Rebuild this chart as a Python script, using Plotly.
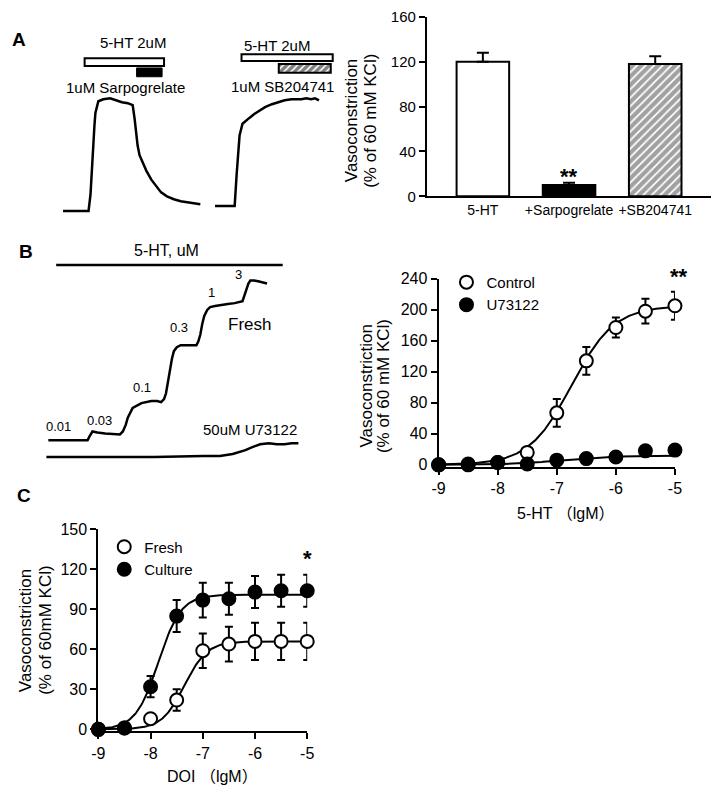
import numpy as np
import plotly.graph_objects as go

W, H = 722, 797
OFF = 8  # page body margin offset in the browser
FONT = "Liberation Sans, Arial, Noto Sans CJK SC, sans-serif"

# ---------------- Panel A bar chart data ----------------
bar_cats = ["5-HT", "+Sarpogrelate", "+SB204741"]
bar_vals = [120, 10, 118]
bar_err = [8, 2, 7]

# ---------------- Panel A recordings (time, tension; arbitrary units) ----------------
a1_t = [17, 43, 45, 47, 49, 50, 53, 58, 65, 71, 77, 83, 88, 90, 91, 93, 95, 98, 102, 107, 112, 117, 123, 130, 137, 143, 150, 157]
a1_f = [8, 8, 25, 65, 95, 108, 120, 122, 123, 121, 119, 118, 116, 102, 90, 75, 65, 58, 49, 40, 33, 27, 23, 20, 18, 17, 16, 15]
a2_t = [172, 192, 194, 196, 197, 200, 204, 207, 212, 217, 223, 230, 237, 243, 250, 260, 265, 270, 274, 278]
a2_f = [13, 13, 45, 75, 85, 97, 101, 103, 107, 110, 114, 117, 119, 121, 122, 122, 123, 122, 123, 121]

# ---------------- Panel B recordings ----------------
fresh_t = [12, 52, 54, 57, 62, 70, 85, 88, 91, 93, 98, 103, 107, 117, 123, 127, 130, 132, 134, 136, 138, 140, 143, 147,
           155, 163, 165, 167, 169, 171, 174, 177, 182, 187, 195, 202, 210, 212, 214, 216, 218, 222, 227, 231, 235]
fresh_f = [29, 29, 33, 38, 37, 36, 35, 38, 45, 52, 62, 65, 67, 69, 69, 68, 71, 77, 90, 102, 112, 120, 124, 126,
           126, 126, 130, 137, 148, 156, 162, 165, 166, 167, 168, 169, 171, 177, 184, 189, 192, 192, 191, 190, 189]
u73_t = [10, 70, 120, 170, 187, 200, 207, 213, 220, 228, 237, 245, 253, 260, 267]
u73_f = [12, 12, 12, 13, 13, 15, 17, 19, 22, 25, 26, 25, 25, 26, 26]

# ---------------- Panel B dose-response ----------------
logc = [-9, -8.5, -8, -7.5, -7, -6.5, -6, -5.5, -5]
ctrl_vals = [0, 1, 3, 16, 67, 134, 177, 198, 205]
ctrl_err = [0, 0, 0, 3, 18, 18, 13, 16, 18]
u73_vals = [0, 0, 3, 1, 6, 8, 10, 18, 19]
u73_err = [0, 0, 1, 1, 1, 1, 1, 1, 1]
ctrl_fit = dict(bottom=0, top=205, logec50=-6.75, hill=1.2)
u73_fit = dict(bottom=0, top=12, logec50=-6.9, hill=1.0)

# ---------------- Panel C dose-response ----------------
fresh_vals = [0, 1, 8, 22, 59, 64, 66, 66, 66]
fresh_err = [0, 0, 2, 8, 13, 13, 14, 14, 14]
cult_vals = [0, 1, 32, 85, 97, 98, 103, 104, 104]
cult_err = [0, 1, 8, 12, 13, 12, 12, 12, 12]
fresh_fit = dict(bottom=0, top=66, logec50=-7.35, hill=2.0)
cult_fit = dict(bottom=0, top=101, logec50=-7.85, hill=2.0)

xticks = [-9, -8, -7, -6, -5]
xtick_text = ["-9", "-8", "-7", "-6", "-5"]


def PX(x):
    return (x - OFF) / W


def PY(y):
    return 1 - (y - OFF) / H


def sigmoid(x, p):
    x = np.asarray(x)
    return p["bottom"] + (p["top"] - p["bottom"]) / (1 + 10 ** ((p["logec50"] - x) * p["hill"]))


xfit = np.linspace(-9, -5, 200)

fig = go.Figure()

# ---- A bar chart ----
fig.add_trace(go.Bar(
    x=bar_cats, y=bar_vals, xaxis="x", yaxis="y", width=0.61,
    marker=dict(color=["white", "black", "white"], line=dict(color="black", width=2),
                pattern=dict(shape=["", "", "/"], fgcolor="black", bgcolor="white", size=6, solidity=0.7)),
    error_y=dict(type="data", array=bar_err, arrayminus=[0, 0, 0], symmetric=False,
                 color="black", thickness=2, width=6),
    showlegend=False))

# ---- A recordings ----
line_style = dict(color="black", width=2.5)
fig.add_trace(go.Scatter(x=a1_t, y=a1_f, mode="lines", line=line_style, xaxis="x3", yaxis="y3", showlegend=False))
fig.add_trace(go.Scatter(x=a2_t, y=a2_f, mode="lines", line=line_style, xaxis="x3", yaxis="y3", showlegend=False))
# hatched SB204741 application bar
fig.add_trace(go.Bar(y=[153.5], x=[53], base=[237], width=[9], orientation="h", xaxis="x3", yaxis="y3",
                     marker=dict(color="white", line=dict(color="black", width=2),
                                 pattern=dict(shape="/", fgcolor="black", bgcolor="white", size=5, solidity=0.7)),
                     showlegend=False))

# ---- B recordings ----
fig.add_trace(go.Scatter(x=fresh_t, y=fresh_f, mode="lines", line=line_style, xaxis="x4", yaxis="y4", showlegend=False))
fig.add_trace(go.Scatter(x=u73_t, y=u73_f, mode="lines", line=line_style, xaxis="x4", yaxis="y4", showlegend=False))

# ---- B dose-response ----
fig.add_trace(go.Scatter(x=xfit, y=sigmoid(xfit, ctrl_fit), mode="lines", line=dict(color="black", width=2),
                         xaxis="x2", yaxis="y2", showlegend=False, cliponaxis=False))
fig.add_trace(go.Scatter(x=xfit, y=sigmoid(xfit, u73_fit), mode="lines", line=dict(color="black", width=2),
                         xaxis="x2", yaxis="y2", showlegend=False, cliponaxis=False))
fig.add_trace(go.Scatter(x=logc, y=ctrl_vals, mode="markers", name="Control", xaxis="x2", yaxis="y2",
                         marker=dict(symbol="circle", size=13, color="white", line=dict(color="black", width=2)),
                         error_y=dict(type="data", array=ctrl_err, color="black", thickness=2, width=4),
                         cliponaxis=False, legend="legend"))
fig.add_trace(go.Scatter(x=logc, y=u73_vals, mode="markers", name="U73122", xaxis="x2", yaxis="y2",
                         marker=dict(symbol="circle", size=13, color="black", line=dict(color="black", width=2)),
                         error_y=dict(type="data", array=u73_err, color="black", thickness=2, width=4),
                         cliponaxis=False, legend="legend"))

# ---- C dose-response ----
fig.add_trace(go.Scatter(x=xfit, y=sigmoid(xfit, fresh_fit), mode="lines", line=dict(color="black", width=2),
                         xaxis="x5", yaxis="y5", showlegend=False, cliponaxis=False))
fig.add_trace(go.Scatter(x=xfit, y=sigmoid(xfit, cult_fit), mode="lines", line=dict(color="black", width=2),
                         xaxis="x5", yaxis="y5", showlegend=False, cliponaxis=False))
fig.add_trace(go.Scatter(x=logc, y=fresh_vals, mode="markers", name="Fresh", xaxis="x5", yaxis="y5",
                         marker=dict(symbol="circle", size=13, color="white", line=dict(color="black", width=2)),
                         error_y=dict(type="data", array=fresh_err, color="black", thickness=2, width=4),
                         cliponaxis=False, legend="legend2"))
fig.add_trace(go.Scatter(x=logc, y=cult_vals, mode="markers", name="Culture", xaxis="x5", yaxis="y5",
                         marker=dict(symbol="circle", size=13, color="black", line=dict(color="black", width=2)),
                         error_y=dict(type="data", array=cult_err, color="black", thickness=2, width=4),
                         cliponaxis=False, legend="legend2"))

axis_common = dict(showline=True, linecolor="black", linewidth=2, ticks="outside", ticklen=6, tickwidth=2,
                   tickcolor="black", showgrid=False, zeroline=False, tickfont=dict(size=16, color="black", family=FONT))
hidden = dict(visible=False, showgrid=False, zeroline=False)

shapes = [
    # Panel A drug application bars
    dict(type="rect", xref="x3", yref="y3", x0=39, x1=120, y0=156, y1=164, line=dict(color="black", width=2), fillcolor="white"),
    dict(type="rect", xref="x3", yref="y3", x0=92, x1=118, y0=145, y1=154, line=dict(color="black", width=1), fillcolor="black"),
    dict(type="rect", xref="x3", yref="y3", x0=199, x1=292, y0=161, y1=168, line=dict(color="black", width=2), fillcolor="white"),
    # Panel B 5-HT application line
    dict(type="line", xref="x4", yref="y4", x0=20, x1=251, y0=208, y1=208, line=dict(color="black", width=2.5)),
]


def txt(x, y, s, size=15, bold=False, angle=0, anchor="center"):
    return dict(x=PX(x), y=PY(y), xref="paper", yref="paper", text=("<b>%s</b>" % s) if bold else s,
                showarrow=False, textangle=angle, xanchor=anchor, yanchor="middle",
                font=dict(size=size, color="black", family=FONT))


annotations = [
    txt(12, 32, "A", 19, bold=True),
    txt(128, 35, "5-HT 2uM"),
    txt(121, 81, "1uM Sarpogrelate"),
    txt(275, 38, "5-HT 2uM"),
    txt(281, 80, "1uM SB204741"),
    txt(352, 115, "Vasoconstriction", 17, angle=-90),
    txt(371, 115, "(% of 60 mM KCl)", 17, angle=-90),
    txt(573, 172, "**", 22, bold=True),
    txt(19, 248, "B", 19, bold=True),
    txt(163, 247, "5-HT, uM", 16),
    txt(52, 427, "0.01", 13),
    txt(94, 421, "0.03", 13),
    txt(138, 387, "0.1", 13),
    txt(175, 326, "0.3", 13),
    txt(208, 290, "1", 13),
    txt(236, 272, "3", 13),
    txt(247, 323, "Fresh", 17),
    txt(248, 430, "50uM U73122"),
    txt(366, 386, "Vasoconstriction", 17, angle=-90),
    txt(384, 386, "(% of 60 mM KCl)", 17, angle=-90),
    txt(570, 516, "5-HT （lgM）", 16),
    txt(685, 274, "**", 22, bold=True),
    txt(17, 497, "C", 19, bold=True),
    txt(19, 635, "Vasoconstriction", 17, angle=-90),
    txt(39, 635, "(% of 60mM KCl)", 17, angle=-90),
    txt(209, 784, "DOI （lgM）", 16),
    txt(306, 562, "*", 22, bold=True),
]

fig.update_layout(
    width=W, height=H, margin=dict(l=0, r=0, t=0, b=0),
    paper_bgcolor="white", plot_bgcolor="white",
    font=dict(family=FONT, color="black"),
    barmode="overlay",
    xaxis=dict(domain=[PX(428), PX(718)], type="category", range=[-0.65, 2.65], showline=True, linecolor="black",
               linewidth=2, ticks="", ticklen=0, showgrid=False, tickfont=dict(size=14, color="black", family=FONT),
               anchor="y"),
    yaxis=dict(domain=[PY(192), PY(9)], range=[0, 160], tickvals=[0, 40, 80, 120, 160], anchor="x",
               **{**axis_common, "tickfont": dict(size=15, color="black", family=FONT)}),
    xaxis2=dict(domain=[PX(440), PX(681)], range=[-9, -5], tickvals=xticks, ticktext=xtick_text, anchor="y2", **axis_common),
    yaxis2=dict(domain=[PY(468), PY(276)], range=[-2.5, 240], tickvals=[0, 40, 80, 120, 160, 200, 240], anchor="x2", **axis_common),
    xaxis3=dict(domain=[PX(40), PX(340)], range=[0, 300], anchor="y3", **hidden),
    yaxis3=dict(domain=[PY(215), PY(15)], range=[0, 200], anchor="x3", **hidden),
    xaxis4=dict(domain=[PX(30), PX(310)], range=[0, 280], anchor="y4", **hidden),
    yaxis4=dict(domain=[PY(470), PY(240)], range=[0, 230], anchor="x4", **hidden),
    xaxis5=dict(domain=[PX(93), PX(306)], range=[-9, -5], tickvals=xticks, ticktext=xtick_text, anchor="y5", **axis_common),
    yaxis5=dict(domain=[PY(738), PY(532)], range=[-1.5, 150], tickvals=[0, 30, 60, 90, 120, 150], anchor="x5", **axis_common),
    legend=dict(x=PX(448), y=PY(263), xanchor="left", yanchor="top", bgcolor="rgba(0,0,0,0)",
                font=dict(size=15, family=FONT, color="black"), itemsizing="trace", tracegroupgap=0),
    legend2=dict(x=PX(99), y=PY(533), xanchor="left", yanchor="top", bgcolor="rgba(0,0,0,0)",
                 font=dict(size=15, family=FONT, color="black"), itemsizing="trace", tracegroupgap=0),
    shapes=shapes, annotations=annotations,
)

fig.write_html("out.html")
